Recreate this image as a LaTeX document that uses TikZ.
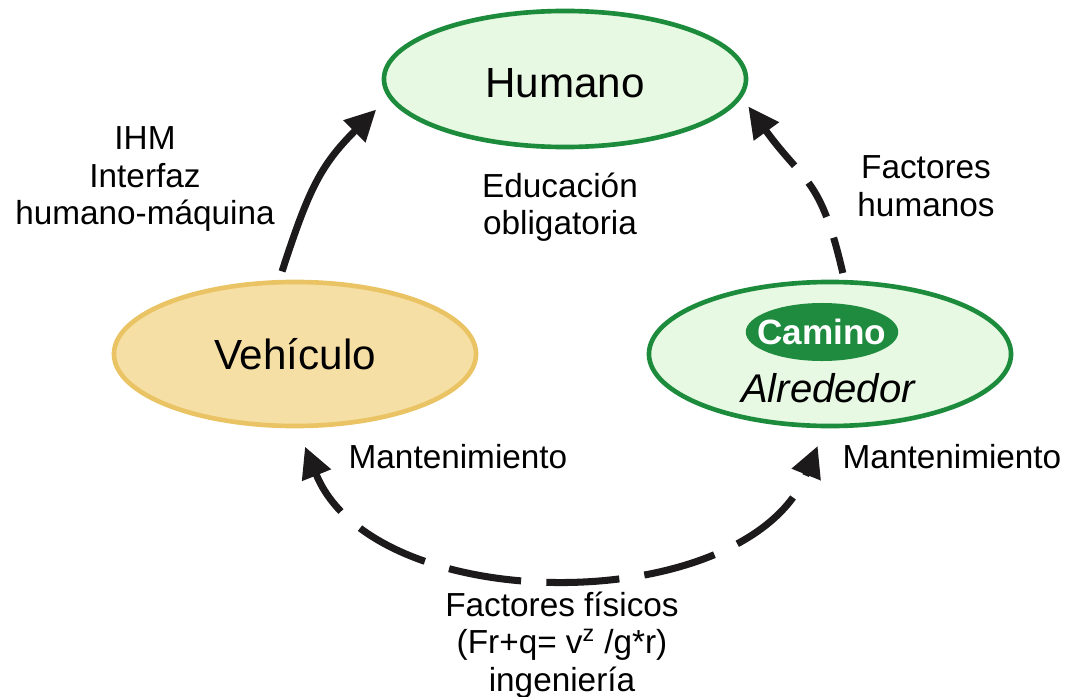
\documentclass[tikz,border=0pt]{standalone}
\usepackage{fontspec}
\setmainfont{Liberation Sans}
\usetikzlibrary{shapes.geometric,arrows.meta}

\definecolor{humanfill}{HTML}{E7F8E3}
\definecolor{ringgreen}{HTML}{1C8B3B}
\definecolor{carfill}{HTML}{F6DFA4}
\definecolor{caredge}{HTML}{EAC464}
\definecolor{roadgreen}{HTML}{1E8B3F}
\definecolor{arrowink}{HTML}{1C1A1A}

\newcommand{\bubblefont}{\fontsize{30pt}{36pt}\selectfont}
\newcommand{\notefont}{\fontsize{23.7pt}{26.6pt}\selectfont}

\begin{document}
\begin{tikzpicture}[x=0.025cm, y=-0.025cm,
    bubble/.style={ellipse, inner sep=0pt, line width=3.3pt, minimum width=9.05cm, minimum height=3.6cm, font=\bubblefont},
    note/.style={inner sep=0pt, align=center, font=\notefont},
    flow/.style={line width=5pt, draw=arrowink},
    >={Triangle[length=22pt,width=21pt]}]
  \useasboundingbox (0,0) rectangle (1074,697);

  % the three partners
  \node[bubble, draw=ringgreen, fill=humanfill, minimum height=3.4cm, text height=27pt] (hum) at (565,79) {Humano};
  \node[bubble, draw=caredge, fill=carfill] (veh) at (295,354) {Veh\'iculo};
  \node[bubble, draw=ringgreen, fill=humanfill] (cam) at (830,354) {};
  \node[ellipse, inner xsep=-7.5pt, inner ysep=0pt, fill=roadgreen, minimum height=1.45cm,
        text=white, font=\fontsize{25pt}{30pt}\selectfont\bfseries] (camtag) at (822,332) {Camino};
  \node[inner sep=0pt, font=\fontsize{28.5pt}{34pt}\selectfont\itshape] (around) at (828,388) {Alrededor};

  % labels
  \node[note] (ihm) at (145,179) {IHM\\Interfaz\\humano-m\'aquina};
  \node[note] (school) at (560,207) {Educaci\'on\\obligatoria};
  \node[note] (hfact) at (926,186) {Factores\\humanos};
  \node[note] (maintl) at (458,457) {Mantenimiento};
  \node[note] (maintr) at (952,457) {Mantenimiento};
  \node[note] (pfact) at (562,645) {Factores f\'isicos\\(Fr+q= v\textsuperscript{z} /g*r)\\ingenier\'ia};

  % connectors
  \draw[flow, ->, shorten <=6.4pt, shorten >=12pt]
    (veh.102) to[out=72, in=225, looseness=1.15] (hum.186);
  \draw[flow, ->, shorten <=5pt, shorten >=7.8pt,
        dash pattern=on 26pt off 15.6pt on 27.6pt off 15.6pt on 200pt]
    (cam.79) to[out=103, in=-54, looseness=1.3] (hum.-6);
  \draw[flow, <->, shorten <=14pt, shorten >=13.5pt,
        dash pattern=on 52pt off 18pt, dash phase=19.5pt]
    (veh.-88) to[out=-68, in=-112, looseness=1.0] (cam.-94);
\end{tikzpicture}
\end{document}
